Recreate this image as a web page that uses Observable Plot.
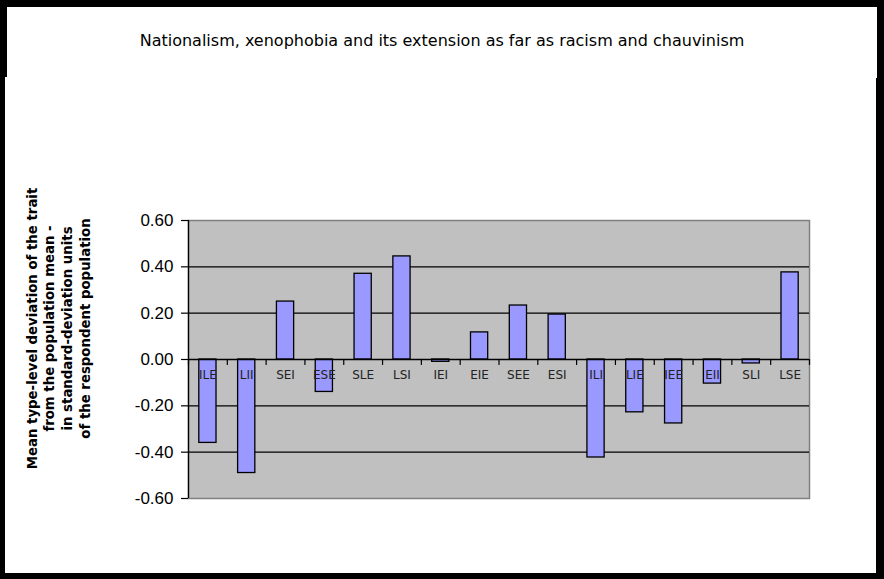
<!DOCTYPE html>
<html>
<head>
<meta charset="utf-8">
<script src="https://cdn.jsdelivr.net/npm/d3@7"></script>
<script src="https://cdn.jsdelivr.net/npm/@observablehq/plot@0.6"></script>
<style>
  html, body { margin: 0; padding: 0; background: #000; }
  #wrap { position: relative; width: 884px; height: 579px; background: #000; overflow: hidden; }
  .panel { position: absolute; background: #fff; }
  #title { position: absolute; left: 0; width: 884px; top: 31px; text-align: center;
           font-family: "DejaVu Sans", sans-serif; font-size: 16px; color: #000; }
  #chart { position: absolute; left: 0; top: 0; }
</style>
</head>
<body>
<div id="wrap">
  <div class="panel" style="left:7px; top:7px; width:870px; height:71px;"></div>
  <div class="panel" style="left:5px; top:77px; width:871px; height:496px;"></div>
  <div id="title">Nationalism, xenophobia and its extension as far as racism and chauvinism</div>
  <div id="chart"></div>
</div>
<script>
const categories = ["ILE","LII","SEI","ESE","SLE","LSI","IEI","EIE","SEE","ESI","ILI","LIE","IEE","EII","SLI","LSE"];
const values = [-0.36, -0.49, 0.25, -0.14, 0.37, 0.445, -0.01, 0.117, 0.233, 0.194, -0.423, -0.228, -0.276, -0.104, -0.017, 0.376];
const yTicks = [-0.6, -0.4, -0.2, 0, 0.2, 0.4, 0.6];
const gridLines = [-0.4, -0.2, 0.2, 0.4];
const yTitle = "Mean type-level deviation of the trait\nfrom the population mean -\nin standard-deviation units\nof the respondent population";

const data = categories.map((c, i) => ({type: c, value: values[i], i}));
const boundaries = d3.range(categories.length + 1);

const tickShape = {draw(context, l) { context.moveTo(0, 0); context.lineTo(0, -l); }};

const chart = Plot.plot({
  width: 884,
  height: 579,
  marginLeft: 188,
  marginRight: 75,
  marginTop: 220,
  marginBottom: 81,
  style: {background: "transparent", overflow: "visible"},
  x: {domain: [0, categories.length], axis: null},
  y: {domain: [-0.6, 0.6], axis: null},
  marks: [
    Plot.frame({fill: "#C0C0C0", stroke: "#808080", strokeWidth: 1.5}),
    Plot.ruleY(gridLines, {stroke: "#000", strokeWidth: 1.3}),
    Plot.rectY(data, {x1: "i", x2: d => d.i + 1, y1: 0, y2: "value", insetLeft: 10.8, insetRight: 10.8,
                      fill: "#9999FF", stroke: "#000", strokeWidth: 1.3}),
    Plot.ruleY([0], {stroke: "#000", strokeWidth: 1.3}),
    Plot.ruleX([0], {stroke: "#000", strokeWidth: 1.3}),
    Plot.vector(boundaries, {x: d => d, y: 0, length: 5, rotate: 180, anchor: "start",
                             shape: tickShape, stroke: "#000", strokeWidth: 1.2}),
    Plot.text(data, {x: d => d.i + 0.5, y: 0, dy: 16, text: "type", fontSize: 12,
                     fontFamily: "DejaVu Sans", fill: "#222"}),
    Plot.axisY({ticks: yTicks, tickFormat: d => d.toFixed(2), tickSize: 7, tickPadding: 8,
                fontSize: 17, fontFamily: "Liberation Sans", label: null, stroke: "#000", strokeWidth: 1.2,
                color: "#000"}),
    Plot.text([yTitle], {frameAnchor: "left", dx: -131, dy: -31, rotate: -90, fontSize: 13.3, fontWeight: "bold",
                         fontFamily: "DejaVu Sans", lineHeight: 1.33, textAnchor: "middle", fill: "#000"})
  ]
});
document.getElementById("chart").appendChild(chart);
</script>
</body>
</html>
